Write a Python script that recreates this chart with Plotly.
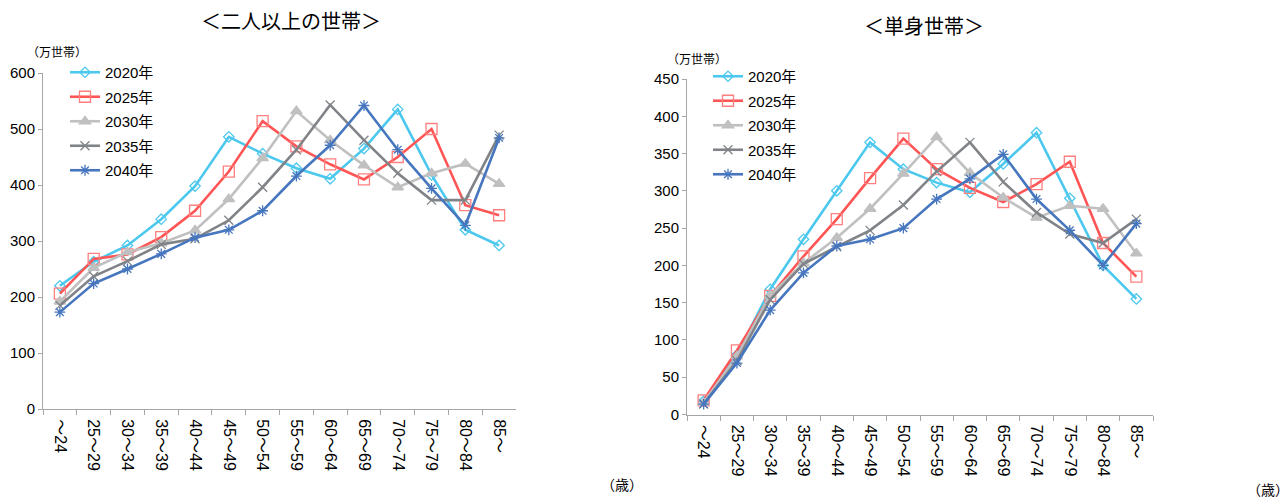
import plotly.graph_objects as go

# Age groups (x categories)
ages = ["～24", "25～29", "30～34", "35～39", "40～44", "45～49", "50～54",
        "55～59", "60～64", "65～69", "70～74", "75～79", "80～84", "85～"]

years = ["2020年", "2025年", "2030年", "2035年", "2040年"]

# Households of two or more persons (10k households)
multi_2020 = [220, 263, 292, 339, 398, 486, 456, 430, 411, 465, 535, 418, 320, 292]
multi_2025 = [206, 268, 276, 307, 354, 424, 514, 469, 437, 410, 450, 500, 364, 346]
multi_2030 = [192, 252, 280, 296, 319, 375, 448, 532, 480, 435, 396, 421, 438, 402]
multi_2035 = [185, 237, 264, 294, 304, 337, 396, 463, 543, 480, 421, 373, 373, 489]
multi_2040 = [173, 224, 250, 277, 306, 320, 354, 416, 471, 542, 463, 394, 328, 484]

# Single-person households (10k households)
single_2020 = [18, 80, 168, 235, 300, 365, 329, 311, 298, 336, 378, 290, 200, 155]
single_2025 = [19, 86, 159, 212, 262, 317, 370, 329, 304, 285, 309, 339, 230, 185]
single_2030 = [16, 78, 160, 203, 237, 276, 323, 372, 324, 291, 264, 280, 276, 216]
single_2035 = [14, 72, 154, 202, 225, 247, 281, 326, 365, 312, 271, 242, 230, 262]
single_2040 = [14, 69, 140, 190, 226, 235, 250, 289, 316, 349, 289, 247, 200, 256]

multi = [multi_2020, multi_2025, multi_2030, multi_2035, multi_2040]
single = [single_2020, single_2025, single_2030, single_2035, single_2040]

colors = ["#4CC8EE", "#FF5555", "#C0C0C0", "#808488", "#4676BE"]
marker_cols = ["#4CC8EE", "#FF7F7F", "#C0C0C0", "#808488", "#4676BE"]
symbols = ["diamond-open", "square-open", "triangle-up", "x-thin-open", "asterisk-open"]
msizes = [8, 11, 10, 9, 9]

FONT = "Liberation Sans, Arial, Noto Sans CJK JP"
AXIS_GRAY = "#A6A6A6"

fig = go.Figure()

for data, xa, ya, leg in [(multi, "x", "y", "legend"),
                          (single, "x2", "y2", "legend2")]:
    for i, (name, vals) in enumerate(zip(years, data)):
        fig.add_trace(go.Scatter(
            x=ages, y=vals, name=name, mode="lines+markers",
            line=dict(color=colors[i], width=2.6),
            marker=dict(symbol=symbols[i], size=msizes[i], color=marker_cols[i],
                        line=dict(width=1.3, color=marker_cols[i])),
            xaxis=xa, yaxis=ya, legend=leg,
            legendgroup=f"{leg}_{i}", showlegend=True,
        ))

xcommon = dict(
    type="category", range=[-0.5, 13.5], showline=True, linecolor=AXIS_GRAY,
    linewidth=1, ticks="outside", tickson="boundaries", ticklen=5,
    tickcolor=AXIS_GRAY, tickangle=90, showgrid=False, zeroline=False,
    automargin=False, ticklabelstandoff=6,
    tickfont=dict(family=FONT, size=16, color="#000000"),
)
ycommon = dict(
    showline=True, linecolor=AXIS_GRAY, linewidth=1, ticks="outside",
    ticklen=4, tickcolor=AXIS_GRAY, showgrid=False, zeroline=False,
    automargin=False,
    tickfont=dict(family=FONT, size=15, color="#000000"),
)

legend_common = dict(
    font=dict(family=FONT, size=15, color="#000000"), bgcolor="rgba(0,0,0,0)",
    tracegroupgap=2, itemwidth=30, xanchor="left", yanchor="top",
)

fig.update_layout(
    width=1288, height=500,
    margin=dict(l=0, r=0, t=0, b=0, autoexpand=False),
    paper_bgcolor="white", plot_bgcolor="white",
    xaxis=dict(xcommon, domain=[43 / 1288, 516 / 1288], anchor="y"),
    yaxis=dict(ycommon, domain=[1 - 409 / 500, 1 - 73 / 500], range=[0, 600],
               dtick=100, anchor="x"),
    xaxis2=dict(xcommon, domain=[687 / 1288, 1153 / 1288], anchor="y2"),
    yaxis2=dict(ycommon, domain=[1 - 414.5 / 500, 1 - 79 / 500], range=[0, 450],
                dtick=50, anchor="x2"),
    legend=dict(legend_common, x=65 / 1288, y=1 - 56 / 500),
    legend2=dict(legend_common, x=708 / 1288, y=1 - 60 / 500),
    showlegend=True,
)

annotations = [
    dict(text="＜二人以上の世帯＞", x=291 / 1288, y=1 - 22 / 500,
         font=dict(family=FONT, size=20, color="#000000")),
    dict(text="＜単身世帯＞", x=924 / 1288, y=1 - 27 / 500,
         font=dict(family=FONT, size=20, color="#000000")),
    dict(text="（万世帯）", x=57 / 1288, y=1 - 53 / 500,
         font=dict(family=FONT, size=12, color="#000000")),
    dict(text="（万世帯）", x=697 / 1288, y=1 - 60 / 500,
         font=dict(family=FONT, size=12, color="#000000")),
    dict(text="（歳）", x=622 / 1288, y=1 - 485 / 500,
         font=dict(family=FONT, size=14, color="#000000")),
    dict(text="（歳）", x=1268 / 1288, y=1 - 490 / 500,
         font=dict(family=FONT, size=14, color="#000000")),
]
for a in annotations:
    fig.add_annotation(xref="paper", yref="paper", showarrow=False,
                       xanchor="center", yanchor="middle", **a)

fig.write_html("out.html")
